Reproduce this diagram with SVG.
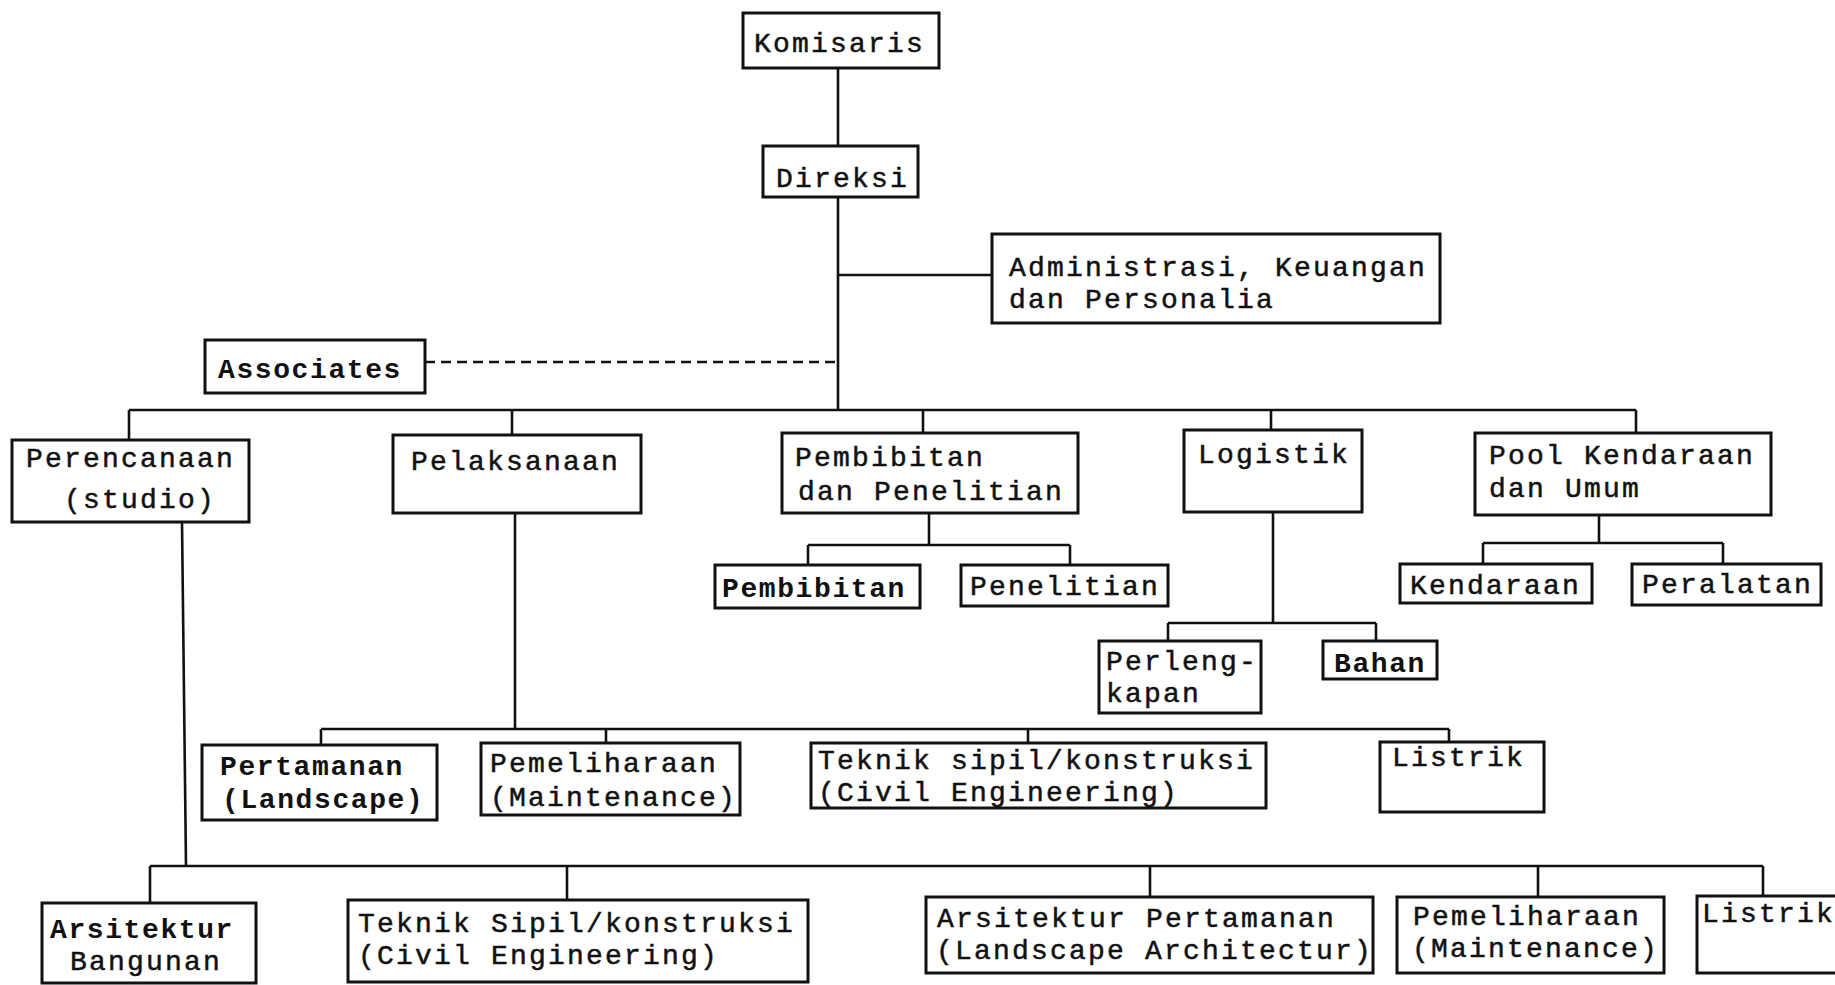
<svg xmlns="http://www.w3.org/2000/svg" width="1835" height="985" viewBox="0 0 1835 985">
<style>
rect.box{fill:#fff;stroke:#111;stroke-width:3}
.c{fill:none;stroke:#111;stroke-width:2.6}
.d{fill:none;stroke:#111;stroke-width:2.6;stroke-dasharray:10 6}
text{font-family:"Liberation Mono","DejaVu Sans Mono",monospace;font-size:28px;letter-spacing:2.2px;fill:#111;stroke:#111;stroke-width:0.5}
text.b{font-weight:bold;letter-spacing:1.6px;stroke-width:0}
</style>
<rect width="1835" height="985" fill="#fff"/>
<g id="connectors">
<path class="c" d="M838 68V146M838 197V410M838 275H992"/>
<path class="d" d="M425 362H838"/>
<path class="c" d="M129 410H1636M129 410V440M512 410V435M923 410V433M1271 410V430M1636 410V433"/>
<path class="c" d="M929 513V545M808 545H1070M808 545V565M1070 545V565"/>
<path class="c" d="M1273 512V623M1168 623H1376M1168 623V641M1376 623V641"/>
<path class="c" d="M1599 515V543M1483 543H1723M1483 543V564M1723 543V564"/>
<path class="c" d="M515 513V729M321 729H1449M321 729V745M606 729V743M1028 729V743M1449 729V742"/>
<path class="c" d="M182 522L186 866M150 866H1763M150 866V903M567 866V900M1150 866V897M1538 866V897M1763 866V896"/>
</g>
<g id="komisaris"><rect class="box" x="743" y="13" width="196" height="55"/><text x="754" y="52">Komisaris</text></g>
<g id="direksi"><rect class="box" x="763" y="146" width="155" height="51"/><text x="776" y="187">Direksi</text></g>
<g id="admin"><rect class="box" x="992" y="234" width="448" height="89"/><text x="1009" y="276">Administrasi, Keuangan</text><text x="1009" y="308">dan Personalia</text></g>
<g id="associates"><rect class="box" x="205" y="340" width="220" height="53"/><text class="b" x="218" y="378">Associates</text></g>
<g id="perencanaan"><rect class="box" x="12" y="440" width="237" height="82"/><text x="26" y="467">Perencanaan</text><text x="64" y="508">(studio)</text></g>
<g id="pelaksanaan"><rect class="box" x="393" y="435" width="248" height="78"/><text x="411" y="470">Pelaksanaan</text></g>
<g id="pembibitan-penelitian"><rect class="box" x="782" y="433" width="296" height="80"/><text x="795" y="466">Pembibitan</text><text x="798" y="500">dan Penelitian</text></g>
<g id="logistik"><rect class="box" x="1184" y="430" width="178" height="82"/><text x="1198" y="463">Logistik</text></g>
<g id="pool"><rect class="box" x="1475" y="433" width="296" height="82"/><text x="1489" y="464">Pool Kendaraan</text><text x="1489" y="497">dan Umum</text></g>
<g id="pembibitan"><rect class="box" x="715" y="565" width="205" height="43"/><text class="b" x="722" y="597">Pembibitan</text></g>
<g id="penelitian"><rect class="box" x="961" y="565" width="207" height="41"/><text x="970" y="595">Penelitian</text></g>
<g id="kendaraan"><rect class="box" x="1400" y="564" width="192" height="39"/><text x="1410" y="594">Kendaraan</text></g>
<g id="peralatan"><rect class="box" x="1632" y="564" width="189" height="41"/><text x="1642" y="593">Peralatan</text></g>
<g id="perlengkapan"><rect class="box" x="1099" y="641" width="162" height="72"/><text x="1106" y="670">Perleng-</text><text x="1106" y="702">kapan</text></g>
<g id="bahan"><rect class="box" x="1323" y="641" width="114" height="38"/><text class="b" x="1334" y="672">Bahan</text></g>
<g id="pertamanan"><rect class="box" x="202" y="745" width="235" height="75"/><text class="b" x="220" y="775">Pertamanan</text><text class="b" x="222" y="808">(Landscape)</text></g>
<g id="pemeliharaan"><rect class="box" x="481" y="743" width="259" height="72"/><text x="490" y="772">Pemeliharaan</text><text x="490" y="806">(Maintenance)</text></g>
<g id="teknik-sipil-1"><rect class="box" x="811" y="743" width="455" height="65"/><text x="818" y="769">Teknik sipil/konstruksi</text><text x="818" y="801">(Civil Engineering)</text></g>
<g id="listrik-1"><rect class="box" x="1380" y="742" width="164" height="70"/><text x="1392" y="766">Listrik</text></g>
<g id="arsitektur-bangunan"><rect class="box" x="42" y="903" width="214" height="80"/><text class="b" x="50" y="938">Arsitektur</text><text x="70" y="970">Bangunan</text></g>
<g id="teknik-sipil-2"><rect class="box" x="348" y="900" width="460" height="82"/><text x="358" y="932">Teknik Sipil/konstruksi</text><text x="358" y="964">(Civil Engineering)</text></g>
<g id="arsitektur-pertamanan"><rect class="box" x="926" y="897" width="447" height="76"/><text x="937" y="927">Arsitektur Pertamanan</text><text x="936" y="959">(Landscape Architectur)</text></g>
<g id="pemeliharaan-2"><rect class="box" x="1397" y="897" width="267" height="76"/><text x="1413" y="925">Pemeliharaan</text><text x="1412" y="957">(Maintenance)</text></g>
<g id="listrik-2"><rect class="box" x="1697" y="896" width="145" height="77"/><text x="1702" y="922">Listrik</text></g>
</svg>
